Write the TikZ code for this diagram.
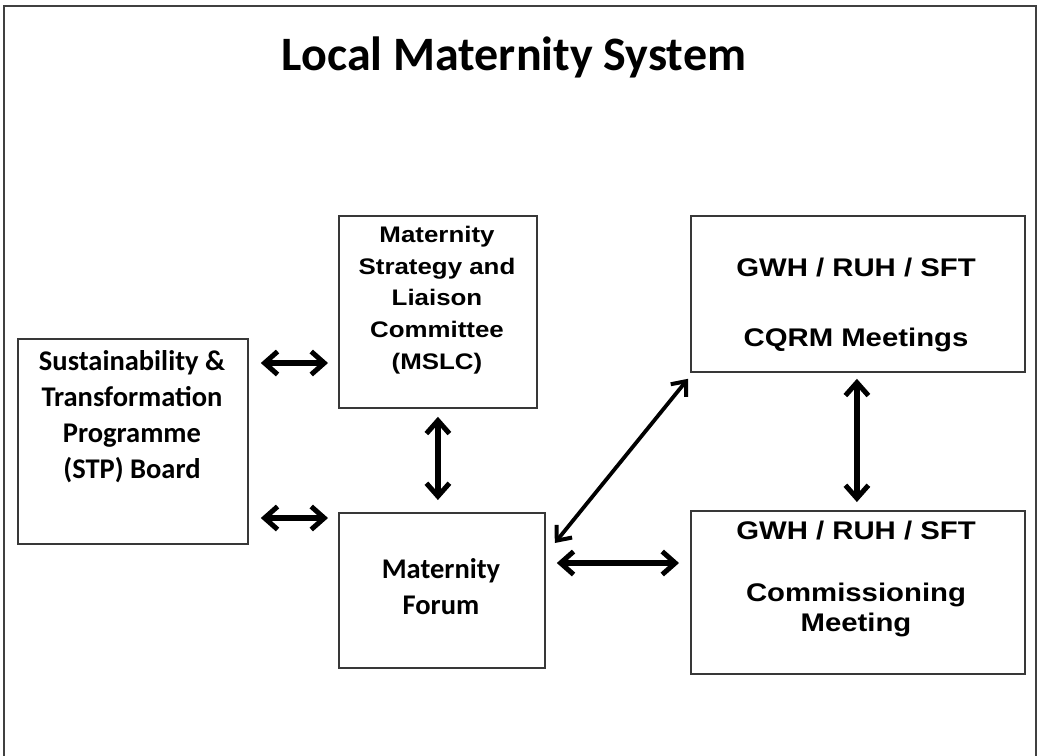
\documentclass[tikz,border=0pt]{standalone}
\usepackage{fontspec}
\newfontfamily\calfont{Carlito}
\newfontfamily\arialfont[FakeStretch=1.15]{Liberation Sans}
\usetikzlibrary{arrows.meta,calc,positioning}

\begin{document}
\begin{tikzpicture}[x=1pt, y=-1pt, box/.style={draw=black!78,line width=1.8pt,rectangle,inner sep=0pt,anchor=north west},caltext/.style={font=\calfont\bfseries\fontsize{28.5}{36}\selectfont,align=center,inner sep=0pt}, arialtext/.style={font=\arialfont\bfseries\fontsize{22.5}{31.7}\selectfont,align=center,inner sep=0pt}, righttext/.style={font=\arialfont\bfseries\fontsize{25.5}{30}\selectfont,align=center,inner sep=0pt}, link/.style={{Straight Barb[length=13pt,width=23pt,line width=5pt]}-{Straight Barb[length=13pt,width=23pt,line width=5pt]},line width=5.5pt}, thinlink/.style={{Straight Barb[length=12pt,width=20pt,line width=4pt]}-{Straight Barb[length=12pt,width=20pt,line width=4pt]},line width=3.8pt}]

 \useasboundingbox (0,0) rectangle (1040,755);
 \fill[white] (0,0) rectangle (1040,755);
 \draw[line width=2pt, black!75] (4,6) rectangle (1036,775);

 \node[font=\calfont\bfseries\fontsize{48}{52}\selectfont, anchor=base, inner sep=0pt] (title) at (514,70) {Local Maternity System};

 % boxes
 \node[box, minimum width=230pt, minimum height=205pt] (stp) at (17,338) {};
 \node[box, minimum width=198pt, minimum height=192pt] (mslc) at (338,215) {};
 \node[box, minimum width=206pt, minimum height=155pt] (forum) at (338,512) {};
 \node[box, minimum width=334pt, minimum height=156pt] (cqrm) at (690,215) {};
 \node[box, minimum width=334pt, minimum height=163pt] (comm) at (690,510) {};

 % texts
 \node[caltext] (stptext) at (132,417) {Sustainability \&\\Transformation\\Programme\\(STP) Board};
 \node[arialtext] (mslctext) at (437,300) {Maternity\\Strategy and\\Liaison\\Committee\\(MSLC)};
 \node[caltext] (forumtext) at (441,587) {Maternity\\Forum};
 \node[righttext] (cqrmtext) at (856,305) {GWH / RUH / SFT\\[40pt]CQRM Meetings};
 \node[righttext] (commtext) at (856,579) {GWH / RUH / SFT\\[32pt]Commissioning\\Meeting};

 % links
 \draw[link] ($(stp.north east)+(12,25)$) -- ($(mslc.north west)+(-10,148)$);
 \draw[link] ($(stp.north east)+(12,180)$) -- ($(forum.north west)+(-10,6)$);
 \draw[link] ($(mslc.south)+(0,8)$) -- ($(mslc.south |- forum.north)+(0,-12)$);
 \draw[thinlink] ($(forum.north east)+(9,31)$) -- ($(cqrm.south west)+(-2,6)$);
 \draw[link] ($(forum.north east)+(11,51)$) -- ($(comm.north west)+(-11,53)$);
 \draw[link] ($(cqrm.south)+(-1,6)$) -- ($(comm.north)+(-1,-8)$);
\end{tikzpicture}
\end{document}
